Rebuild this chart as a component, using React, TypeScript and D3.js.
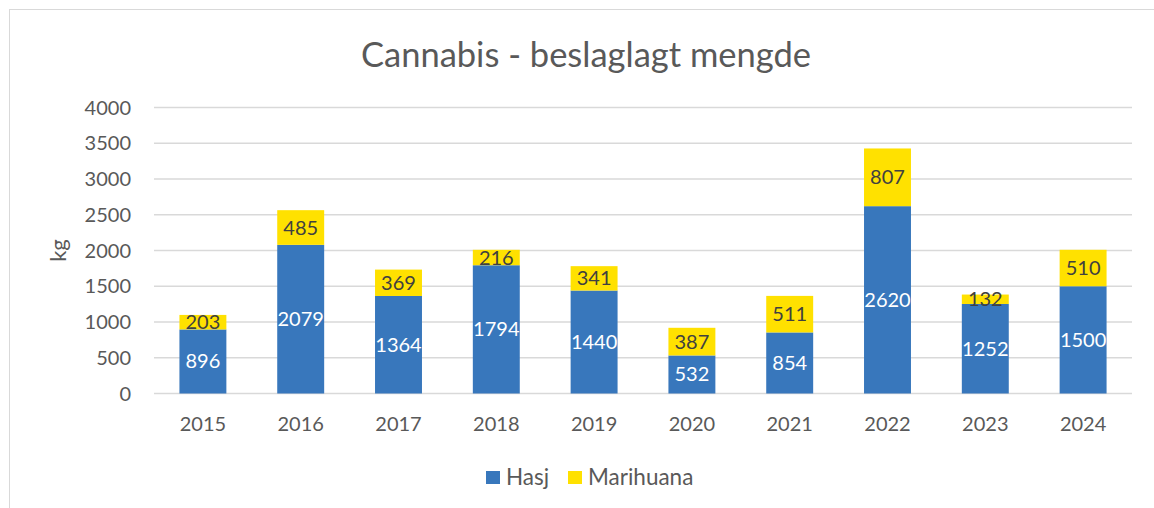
import React from 'react'
import * as d3 from 'd3'

const years = ['2015', '2016', '2017', '2018', '2019', '2020', '2021', '2022', '2023', '2024']
const hasj = [896, 2079, 1364, 1794, 1440, 532, 854, 2620, 1252, 1500]
const marihuana = [203, 485, 369, 216, 341, 387, 511, 807, 132, 510]
const yTicks = [0, 500, 1000, 1500, 2000, 2500, 3000, 3500, 4000]

const WIDTH = 1154
const HEIGHT = 508
const FONT = 'Lato, "Open Sans", sans-serif'
const TEXT = '#595959'
const BLUE = '#3877bc'
const YELLOW = '#ffe100'

export default function App() {
  const svgRef = React.useRef<SVGSVGElement>(null)

  React.useEffect(() => {
    const svg = d3.select(svgRef.current)
    svg.selectAll('*').remove()

    const left = 154
    const right = 1132
    const top = 107.5
    const bottom = 393.5

    const x = d3.scaleBand<string>()
      .domain(years)
      .range([left, right])
      .paddingInner(0.52)
      .paddingOuter(0.26)

    const y = d3.scaleLinear().domain([0, 4000]).range([bottom, top])

    // chart frame
    svg.append('rect')
      .attr('x', 9.5).attr('y', 9.5)
      .attr('width', WIDTH + 20).attr('height', HEIGHT + 20)
      .attr('fill', 'white').attr('stroke', '#d9d9d9')

    svg.append('text')
      .attr('x', 586).attr('y', 67)
      .attr('text-anchor', 'middle')
      .style('font-family', FONT).style('font-size', '34.5px')
      .attr('fill', TEXT)
      .text('Cannabis - beslaglagt mengde')

    // gridlines + y ticks
    const grid = svg.append('g')
    grid.selectAll('line').data(yTicks).enter().append('line')
      .attr('x1', left).attr('x2', right)
      .attr('y1', d => y(d)).attr('y2', d => y(d))
      .attr('stroke', '#d9d9d9').attr('stroke-width', 1.5)
    grid.selectAll('text').data(yTicks).enter().append('text')
      .attr('x', 131).attr('y', d => y(d))
      .attr('dy', '0.35em')
      .attr('text-anchor', 'end')
      .style('font-family', FONT).style('font-size', '20px')
      .attr('fill', TEXT)
      .text(d => d)

    svg.append('text')
      .attr('transform', `translate(66,${(top + bottom) / 2}) rotate(-90)`)
      .attr('text-anchor', 'middle')
      .style('font-family', FONT).style('font-size', '22px')
      .attr('fill', TEXT)
      .text('kg')

    // x labels
    svg.append('g').selectAll('text').data(years).enter().append('text')
      .attr('x', d => x(d)! + x.bandwidth() / 2)
      .attr('y', 424).attr('dy', '0.35em')
      .attr('text-anchor', 'middle')
      .style('font-family', FONT).style('font-size', '20px')
      .attr('fill', TEXT)
      .text(d => d)

    const rows = years.map((yr, i) => ({ yr, h: hasj[i], m: marihuana[i] }))

    const bars = svg.append('g')
    bars.selectAll('rect.h').data(rows).enter().append('rect')
      .attr('x', d => x(d.yr)!)
      .attr('width', x.bandwidth())
      .attr('y', d => y(d.h))
      .attr('height', d => y(0) - y(d.h))
      .attr('fill', BLUE)
    bars.selectAll('rect.m').data(rows).enter().append('rect')
      .attr('x', d => x(d.yr)!)
      .attr('width', x.bandwidth())
      .attr('y', d => y(d.h + d.m))
      .attr('height', d => y(d.h) - y(d.h + d.m))
      .attr('fill', YELLOW)

    // data labels
    bars.selectAll('text.h').data(rows).enter().append('text')
      .attr('x', d => x(d.yr)! + x.bandwidth() / 2)
      .attr('y', d => y(d.h / 2)).attr('dy', '0.35em')
      .attr('text-anchor', 'middle')
      .style('font-family', FONT).style('font-size', '20px')
      .attr('fill', 'white')
      .text(d => d.h)
    bars.selectAll('text.m').data(rows).enter().append('text')
      .attr('x', d => x(d.yr)! + x.bandwidth() / 2)
      .attr('y', d => y(d.h + d.m / 2)).attr('dy', '0.35em')
      .attr('text-anchor', 'middle')
      .style('font-family', FONT).style('font-size', '20px')
      .attr('fill', '#404040')
      .text(d => d.m)

    // legend
    const legend = svg.append('g')
    const items = [
      { name: 'Hasj', color: BLUE, x: 486 },
      { name: 'Marihuana', color: YELLOW, x: 568 },
    ]
    items.forEach(it => {
      legend.append('rect')
        .attr('x', it.x).attr('y', 471)
        .attr('width', 14).attr('height', 13)
        .attr('fill', it.color)
      legend.append('text')
        .attr('x', it.x + 20).attr('y', 477.5).attr('dy', '0.35em')
        .style('font-family', FONT).style('font-size', '22.5px')
        .attr('fill', TEXT)
        .text(it.name)
    })
  }, [])

  return (
    <svg
      ref={svgRef}
      width={WIDTH}
      height={HEIGHT}
      style={{ position: 'absolute', left: 0, top: 0, background: 'white' }}
    />
  )
}
